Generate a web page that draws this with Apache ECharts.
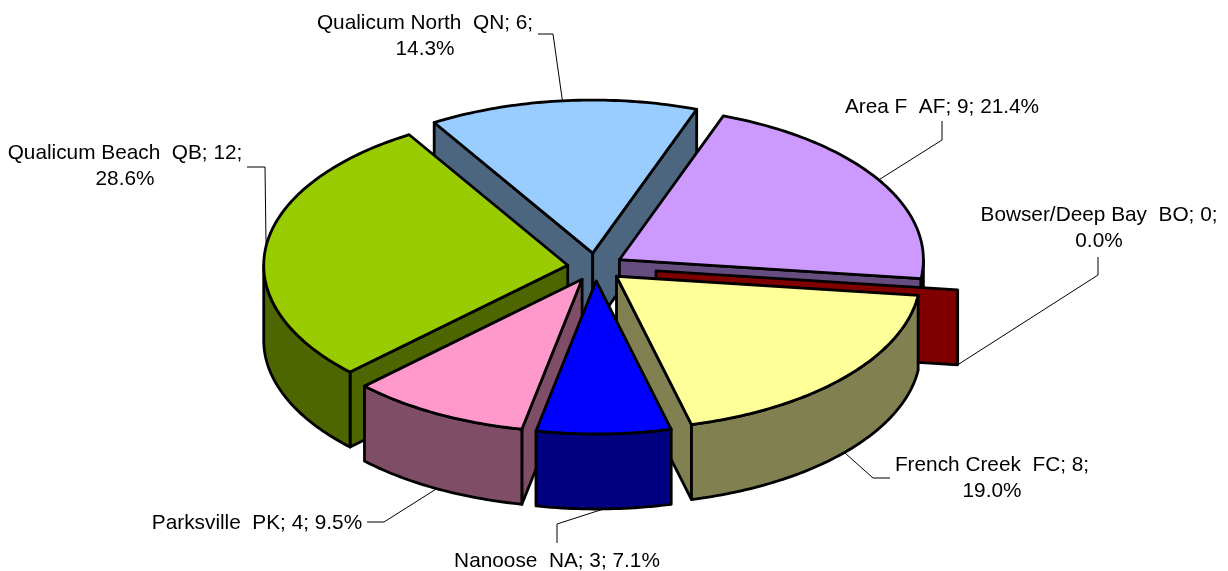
<!DOCTYPE html>
<html>
<head>
<meta charset="utf-8">
<style>
  html, body { margin: 0; padding: 0; background: #fff; }
  #chart { width: 1228px; height: 571px; }
</style>
<script src="https://cdn.jsdelivr.net/npm/echarts@6/dist/echarts.min.js"></script>
</head>
<body>
<div id="chart"></div>
<script>
// data, in pie order (clockwise)
const categories = ['Area F  AF', 'Bowser/Deep Bay  BO', 'French Creek  FC', 'Nanoose  NA', 'Parksville  PK', 'Qualicum Beach  QB', 'Qualicum North  QN'];
const values = [9, 0, 8, 3, 4, 12, 6];
const topColors = ['#CC99FF', '#800000', '#FFFF99', '#0000FF', '#FF99CC', '#99CC00', '#99CCFF'];
const sideColors = ['#664D80', '#800000', '#808050', '#000080', '#804D66', '#4D6600', '#4D6680'];
// how far each slice is pulled out
const explode = [28, 61, 28, 28, 28, 28, 28];
// back to front
const drawOrder = [6, 0, 1, 5, 2, 4, 3];

// label layout: x centre, y top of first line, line break after the value or not
const labelX = [942, 1099, 992, 557, 257, 125, 425];
const labelY = [94, 202, 452, 548, 510, 140, 10];
const labelWrap = [false, true, true, false, false, true, true];
// leader line, the points before the end that sits on the slice
const leaderPts = [
  [[942, 121], [942, 140]],
  [[1098, 257], [1098, 275]],
  [[890, 478], [873, 478]],
  [[557, 543], [557, 524]],
  [[367, 522], [384, 522]],
  [[247, 167], [265, 167]],
  [[538, 34], [553, 34]]
];

const cx = 595.5, cy = 267, rx = 304, ry = 153, depth = 75;
const firstAngle = 20;
const total = values.reduce((a, b) => a + b, 0);

const rad = d => d * Math.PI / 180;
let acc = firstAngle;
const slices = values.map((v, i) => {
  const a0 = acc, a1 = acc + v / total * 360;
  acc = a1;
  const mid = rad((a0 + a1) / 2);
  return { a0, a1, ox: cx + explode[i] * Math.sin(mid), oy: cy - explode[i] * 0.5 * Math.cos(mid) };
});

function rim(s, a, dz) {
  return [s.ox + rx * Math.sin(rad(a)), s.oy - ry * Math.cos(rad(a)) + (dz || 0)];
}

function arc(s, from, to, dz) {
  const pts = [];
  const n = Math.max(2, Math.ceil(Math.abs(to - from)));
  for (let k = 0; k <= n; k++) pts.push(rim(s, from + (to - from) * k / n, dz));
  return pts;
}

function poly(points, fill) {
  return {
    type: 'polygon',
    shape: { points },
    style: { fill, stroke: '#000', lineWidth: 2.8, lineJoin: 'round' }
  };
}

function radialWall(s, a, fill) {
  const p = rim(s, a);
  return poly([[s.ox, s.oy], p, [p[0], p[1] + depth], [s.ox, s.oy + depth]], fill);
}

function renderSlice(params, api) {
  const i = api.value(0);
  const s = slices[i];
  const side = sideColors[i];
  const kids = [];
  if (values[i] === 0) {
    // empty slice only shows as one wall
    kids.push(radialWall(s, s.a0, side));
  } else {
    if (Math.sin(rad(s.a0)) < 0) kids.push(radialWall(s, s.a0, side));
    if (Math.sin(rad(s.a1)) > 0) kids.push(radialWall(s, s.a1, side));
    // outer wall only where the rim faces the viewer
    [[90, 270], [450, 630]].forEach(r => {
      const from = Math.max(s.a0, r[0]), to = Math.min(s.a1, r[1]);
      if (to > from) kids.push(poly(arc(s, from, to, 0).concat(arc(s, to, from, depth)), side));
    });
    kids.push(poly([[s.ox, s.oy]].concat(arc(s, s.a0, s.a1, 0)), topColors[i]));
  }
  return { type: 'group', children: kids };
}

function renderLabel(params, api) {
  const i = api.value(0);
  const s = slices[i];
  const midA = (s.a0 + s.a1) / 2;
  const pct = (values[i] / total * 100).toFixed(1) + '%';
  const head = categories[i] + '; ' + values[i] + ';';
  const text = labelWrap[i] ? head + '\n' + pct : head + ' ' + pct;
  // leader ends on the top rim at the back, on the lower rim at the front
  const sinkIt = Math.cos(rad(midA)) < 0;
  const end = rim(s, midA, sinkIt ? depth : 0);
  return {
    type: 'group',
    children: [
      {
        type: 'polyline',
        shape: { points: leaderPts[i].concat([end]) },
        style: { fill: null, stroke: '#000', lineWidth: 1 }
      },
      {
        type: 'text',
        x: labelX[i],
        y: labelY[i],
        style: {
          text,
          fill: '#000',
          font: '20.8px "Liberation Sans", Arial, sans-serif',
          textAlign: 'center',
          textVerticalAlign: 'top',
          lineHeight: 26.5
        }
      }
    ]
  };
}

const chart = echarts.init(document.getElementById('chart'), null, { renderer: 'canvas' });
chart.setOption({
  animation: false,
  backgroundColor: '#fff',
  series: [
    {
      type: 'custom',
      coordinateSystem: 'none',
      renderItem: renderSlice,
      data: drawOrder.map(i => [i, values[i]]),
      silent: true
    },
    {
      type: 'custom',
      coordinateSystem: 'none',
      renderItem: renderLabel,
      data: values.map((v, i) => [i, v]),
      silent: true,
      z: 3
    }
  ]
});
</script>
</body>
</html>
